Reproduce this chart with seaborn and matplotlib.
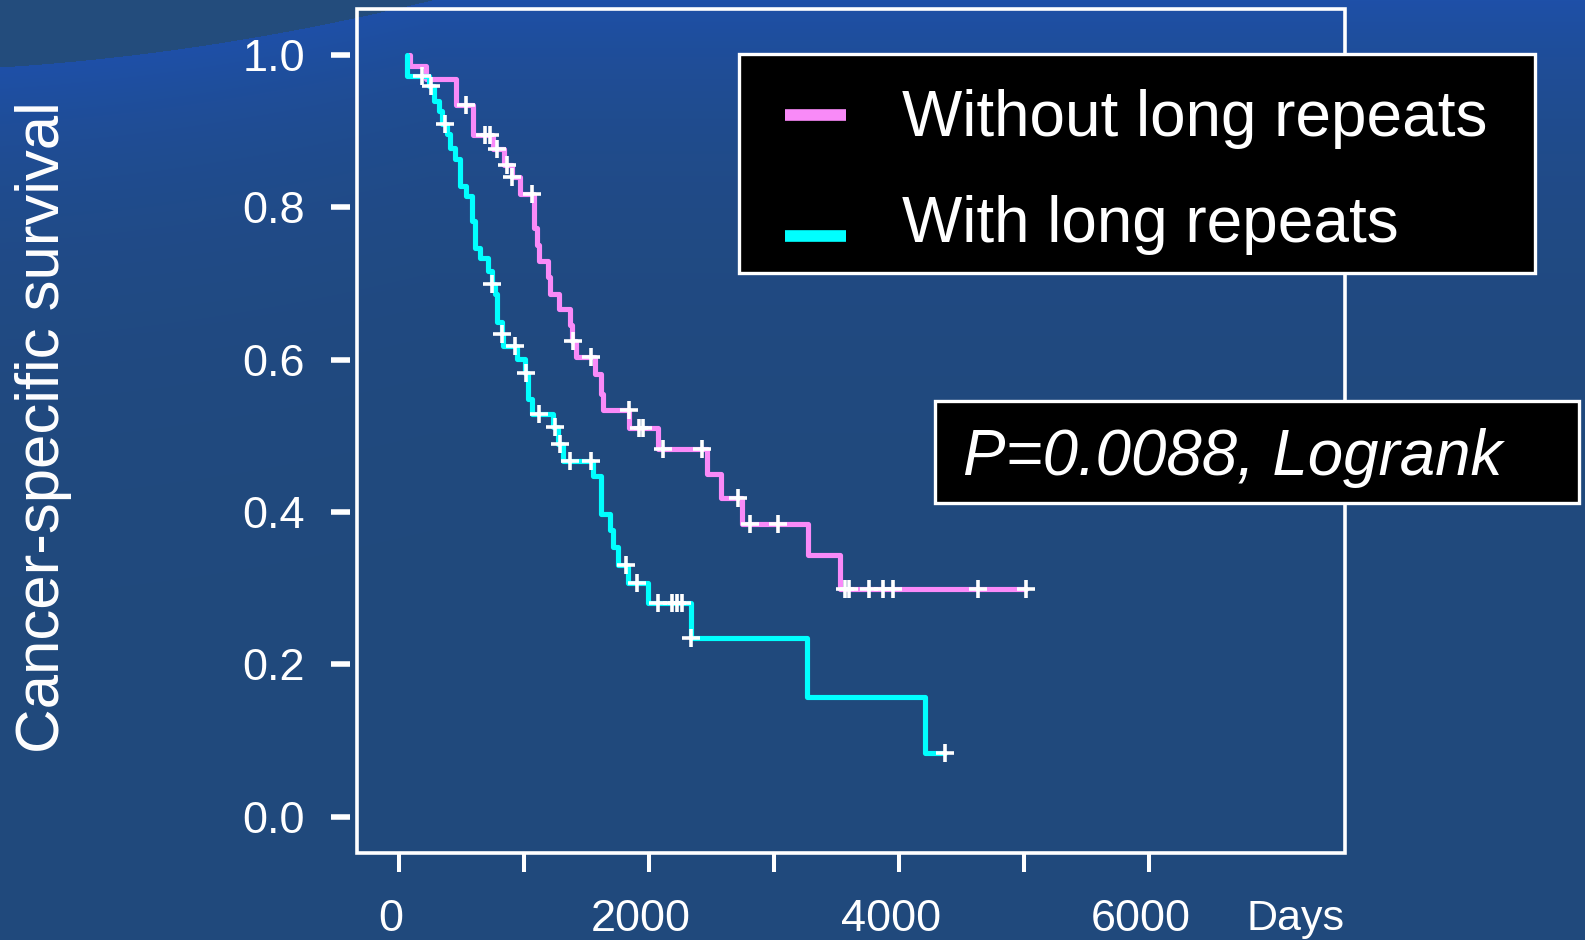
import numpy as np
import pandas as pd
import matplotlib
matplotlib.use("Agg")
import matplotlib.pyplot as plt
import seaborn as sns
from matplotlib.patches import Rectangle
from matplotlib.lines import Line2D
from matplotlib.transforms import ScaledTranslation

# ---------------- data ----------------
groups = ["Without long repeats", "With long repeats"]

pink_days = [82, 88, 218, 459, 597, 756, 842, 903, 969, 1078, 1102, 1125, 1194, 1208,
             1280, 1367, 1385, 1420, 1566, 1619, 1632, 1845, 2075, 2468, 2575, 2747,
             3273, 3530, 5016]
pink_surv = [1.0, 0.986, 0.969, 0.934, 0.895, 0.877, 0.856, 0.840, 0.817, 0.773, 0.751,
             0.730, 0.708, 0.686, 0.667, 0.646, 0.625, 0.603, 0.581, 0.555, 0.534, 0.510,
             0.483, 0.450, 0.419, 0.384, 0.343, 0.299, 0.299]
pink_cens_days = [539, 690, 730, 783, 863, 908, 1062, 1395, 1540, 1839, 1924, 1956, 2115,
                  2428, 2713, 2813, 3033, 3570, 3600, 3764, 3875, 3954, 4631, 5016]
pink_cens_surv = [0.934, 0.895, 0.895, 0.877, 0.856, 0.840, 0.817, 0.625, 0.603, 0.534,
                  0.510, 0.510, 0.483, 0.483, 0.419, 0.384, 0.384, 0.299, 0.299, 0.299,
                  0.299, 0.299, 0.299, 0.299]

cyan_days = [62, 67, 239, 279, 318, 345, 385, 412, 451, 491, 539, 584, 611, 650, 717, 743,
             770, 783, 823, 836, 943, 1009, 1035, 1062, 1234, 1274, 1314, 1553, 1619, 1686,
             1712, 1752, 1831, 1990, 2336, 3264, 4212, 4371]
cyan_surv = [1.0, 0.972, 0.959, 0.939, 0.926, 0.909, 0.896, 0.878, 0.863, 0.828, 0.815,
             0.782, 0.747, 0.734, 0.717, 0.699, 0.686, 0.649, 0.634, 0.618, 0.601, 0.583,
             0.548, 0.529, 0.511, 0.489, 0.467, 0.447, 0.398, 0.376, 0.354, 0.331, 0.307,
             0.280, 0.234, 0.157, 0.083, 0.083]
cyan_cens_days = [186, 258, 372, 743, 828, 929, 1020, 1123, 1253, 1293, 1367, 1540, 1818,
                  1903, 2070, 2189, 2229, 2269, 2340, 4371]
cyan_cens_surv = [0.972, 0.959, 0.909, 0.699, 0.634, 0.618, 0.583, 0.529, 0.511, 0.489,
                  0.467, 0.467, 0.331, 0.307, 0.280, 0.280, 0.280, 0.280, 0.234, 0.083]

x_ticks = [0, 1000, 2000, 3000, 4000, 5000, 6000]
x_ticklabels = ["0", "", "2000", "", "4000", "", "6000"]
y_ticks = [0.0, 0.2, 0.4, 0.6, 0.8, 1.0]
y_ticklabels = ["0.0", "0.2", "0.4", "0.6", "0.8", "1.0"]
p_text = "P=0.0088, Logrank"

colors = {"Without long repeats": "#F98AF8", "With long repeats": "#00FFFF"}

# ---------------- figure ----------------
W, H, DPI = 1585, 940, 100
sns.set_style("ticks")
plt.rcParams["font.family"] = ["Liberation Sans", "DejaVu Sans"]

fig = plt.figure(figsize=(W / DPI, H / DPI), dpi=DPI)
fig.patch.set_facecolor("#21497C")

# background gradient
bg = fig.add_axes([0, 0, 1, 1])
bg.set_axis_off()
bg.set_zorder(-10)
yy, xx = np.mgrid[0:H, 0:W].astype(float)
arc = 67 - 0.0635 * xx - 0.000213 * xx ** 2
dark = yy < arc
dist = np.clip(yy - np.clip(arc, 0, None), 0, None)
f = np.exp(-dist / 140.0)
base = np.array([33, 73, 124]) / 255
bright = np.array([30, 80, 168]) / 255
darkc = np.array([35, 76, 124]) / 255
img = base * (1 - f[..., None]) + bright * f[..., None]
img[dark] = darkc
bg.imshow(img, aspect="auto", extent=(0, 1, 0, 1), origin="upper", interpolation="bilinear")
bg.set_xlim(0, 1)
bg.set_ylim(0, 1)

ax = fig.add_axes([357 / W, 1 - 852.5 / H, (1345 - 357) / W, (852.5 - 8.5) / H])
ax.set_facecolor("none")

df_lines = pd.concat([
    pd.DataFrame({"days": pink_days, "surv": pink_surv, "group": groups[0]}),
    pd.DataFrame({"days": cyan_days, "surv": cyan_surv, "group": groups[1]}),
], ignore_index=True)
df_cens = pd.concat([
    pd.DataFrame({"days": pink_cens_days, "surv": pink_cens_surv, "group": groups[0]}),
    pd.DataFrame({"days": cyan_cens_days, "surv": cyan_cens_surv, "group": groups[1]}),
], ignore_index=True)

sns.lineplot(data=df_lines, x="days", y="surv", hue="group", palette=colors,
             drawstyle="steps-post", estimator=None, sort=False, legend=False,
             linewidth=3.7, ax=ax, zorder=3)
sns.scatterplot(data=df_cens, x="days", y="surv", marker="+", color="white", s=175,
                linewidth=2.6, legend=False, ax=ax, zorder=5)

ax.set_xlim(-334, 7570)
ax.set_ylim(-0.047, 1.061)
ax.set_xlabel("")
ax.set_ylabel("")
ax.set_xticks(x_ticks)
ax.set_xticklabels(x_ticklabels)
ax.set_yticks(y_ticks)
ax.set_yticklabels(y_ticklabels)

for s in ax.spines.values():
    s.set_color("none")
ax.spines["left"].set_position(("outward", 4.7))
ax.tick_params(axis="y", colors="white", direction="out", length=13.7, width=4,
               pad=19, labelsize=32.5)
ax.tick_params(axis="x", colors="white", direction="out", length=13.8, width=2.9,
               pad=20, labelsize=32.5)
shift = ScaledTranslation(-8 / DPI, 0, fig.dpi_scale_trans)
for lab in ax.get_xticklabels():
    lab.set_transform(lab.get_transform() + shift)
ax.add_patch(Rectangle((0, 0), 1, 1, transform=ax.transAxes, fill=False, ec="white",
                       lw=2.6, clip_on=False, zorder=10))

fig.text(15 / W, 1 - 427 / H, "Cancer-specific survival", rotation=90, ha="left",
         va="center", fontsize=44.5, color="white")
fig.text(1344 / W, 1 - 930 / H, "Days", ha="right", va="baseline", fontsize=31,
         color="white")

# legend box
fig.add_artist(Rectangle((739.3 / W, 1 - 272.7 / H), (1535 - 739.3) / W, (272.7 - 54) / H,
                         transform=fig.transFigure, fc="black", ec="white", lw=2.4,
                         zorder=20))
for g, yc, yb in [(groups[0], 114.8, 136), (groups[1], 235.5, 241.7)]:
    fig.add_artist(Line2D([785 / W, 846 / W], [1 - yc / H] * 2, transform=fig.transFigure,
                          color=colors[g], lw=8.4, solid_capstyle="butt", zorder=21))
    fig.text(902 / W, 1 - yb / H, g, ha="left", va="baseline", fontsize=46,
             color="white", zorder=22)

# p-value box
fig.add_artist(Rectangle((935 / W, 1 - 503.3 / H), (1578.8 - 935) / W, (503.3 - 401) / H,
                         transform=fig.transFigure, fc="black", ec="white", lw=2.4,
                         zorder=20))
fig.text(962.7 / W, 1 - 475 / H, p_text, ha="left", va="baseline", fontsize=45.8,
         style="italic", color="white", zorder=22)

fig.savefig("out.png", dpi=DPI)
